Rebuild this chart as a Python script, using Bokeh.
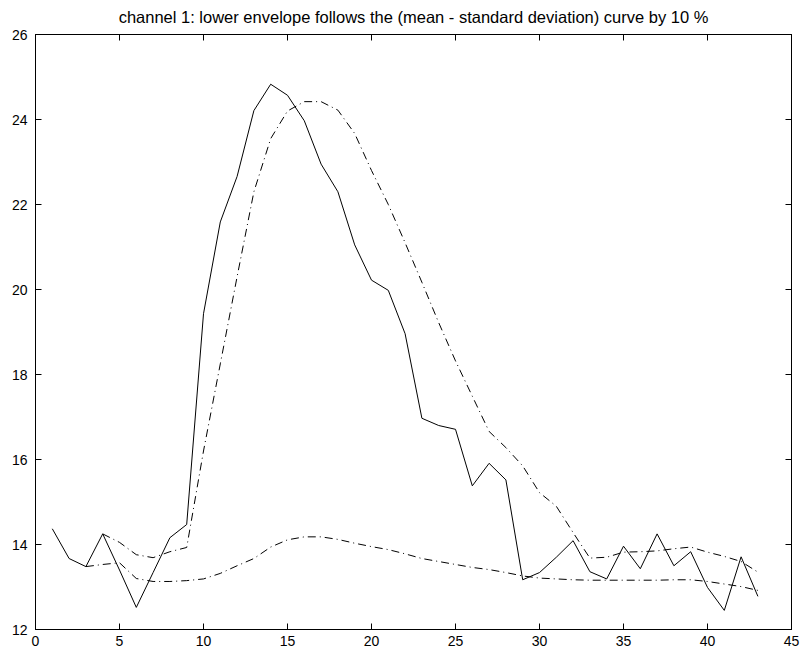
from bokeh.plotting import figure
from bokeh.models import LinearAxis, Range1d, FixedTicker, CustomLabelingPolicy
from bokeh.embed import file_html
from bokeh.resources import INLINE

title_text = "channel 1: lower envelope follows the (mean - standard deviation) curve by 10 %"

x_signal = list(range(1, 44))
signal = [14.37, 13.67, 13.48, 14.25, 13.40, 12.52, 13.34, 14.16, 14.47, 19.43,
          21.59, 22.66, 24.21, 24.83, 24.57, 23.97, 22.95, 22.30, 21.05, 20.22,
          19.98, 18.96, 16.97, 16.80, 16.71, 15.38, 15.91, 15.52, 13.17, 13.34,
          13.70, 14.09, 13.36, 13.19, 13.96, 13.43, 14.25, 13.50, 13.83, 12.99,
          12.45, 13.71, 12.78]

x_upper = list(range(4, 44))
upper = [14.25, 14.05, 13.76, 13.69, 13.83, 13.93, 16.20, 18.25, 20.30, 22.30,
         23.55, 24.20, 24.42, 24.42, 24.22, 23.67, 22.80, 22.00, 21.10, 20.17,
         19.22, 18.32, 17.49, 16.66, 16.28, 15.85, 15.22, 14.90, 14.28, 13.68,
         13.70, 13.82, 13.83, 13.85, 13.90, 13.94, 13.82, 13.72, 13.60, 13.35]

x_lower = list(range(3, 44))
lower = [13.48, 13.53, 13.57, 13.20, 13.13, 13.13, 13.15, 13.19, 13.32, 13.50,
         13.67, 13.94, 14.11, 14.18, 14.18, 14.12, 14.03, 13.95, 13.88, 13.78,
         13.67, 13.60, 13.53, 13.46, 13.41, 13.34, 13.26, 13.21, 13.19, 13.17,
         13.16, 13.16, 13.16, 13.16, 13.16, 13.17, 13.17, 13.13, 13.07, 13.01,
         12.92]

x_ticks = [0, 5, 10, 15, 20, 25, 30, 35, 40, 45]
y_ticks = [12, 14, 16, 18, 20, 22, 24, 26]

FONT = "Liberation Sans"

p = figure(width=800, height=652, output_backend="svg", toolbar_location=None,
           x_range=Range1d(0, 45), y_range=Range1d(12, 26),
           min_border_left=35, min_border_right=9, min_border_bottom=23,
           min_border_top=0)
p.title.text = title_text
p.title.align = "center"
p.title.text_font = FONT
p.title.text_font_size = "16.5px"
p.title.text_font_style = "normal"
p.title.text_color = "black"
p.title.standoff = 10

p.xgrid.visible = False
p.ygrid.visible = False
p.outline_line_color = "black"
p.outline_line_alpha = 1.0
p.background_fill_color = "white"
p.border_fill_color = "white"

hide_all = CustomLabelingPolicy(code="for (const i of indices) indices.unset(i); return indices")

def style_axis(ax, labels=True, standoff=6):
    ax.major_tick_in = 6
    ax.major_tick_out = 0
    ax.minor_tick_in = 0
    ax.minor_tick_out = 0
    ax.axis_line_color = "black"
    ax.major_tick_line_color = "black"
    ax.major_label_text_font = FONT
    ax.major_label_text_color = "black"
    if labels:
        ax.major_label_text_font_size = "14px"
        ax.major_label_standoff = standoff
    else:
        ax.major_label_text_font_size = "1px"
        ax.major_label_standoff = 0
        ax.major_label_policy = hide_all

p.xaxis.ticker = FixedTicker(ticks=x_ticks)
p.yaxis.ticker = FixedTicker(ticks=y_ticks)
style_axis(p.xaxis[0], standoff=6)
style_axis(p.yaxis[0], standoff=8)

top = LinearAxis(ticker=FixedTicker(ticks=x_ticks))
style_axis(top, labels=False)
p.add_layout(top, "above")
right = LinearAxis(ticker=FixedTicker(ticks=y_ticks))
style_axis(right, labels=False)
p.add_layout(right, "right")

p.line(x_signal, signal, line_color="black", line_width=1)
p.line(x_upper, upper, line_color="black", line_width=1, line_dash="8 4 1 4")
p.line(x_lower, lower, line_color="black", line_width=1, line_dash="8 4 1 4")

open("out.html", "w").write(file_html(p, INLINE))
